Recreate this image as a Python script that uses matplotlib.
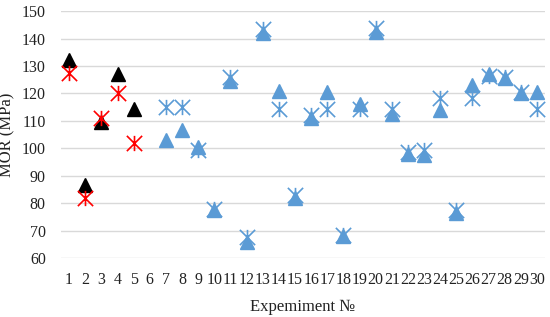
import numpy as np
import matplotlib
matplotlib.use('Agg')
import matplotlib.pyplot as plt
from matplotlib.path import Path

# experiments 1-5 (black triangles / red crosses)
exp_a = [1, 2, 3, 4, 5]
tri_a = [132, 86.5, 109.5, 127, 114.5]
star_a = [127.5, 82, 111, 120, 102]

# experiments 7-30 (blue)
exp_b = list(range(7, 31))
tri_b = [103, 106.5, 100.5, 77.5, 124.5, 66, 142, 121, 82, 111, 120.5, 68,
         116, 142.5, 112.5, 98, 97.5, 114, 76.5, 123, 127, 125.5, 120, 120.5]
star_b = [115, 115, 99.5, 78, 126, 67.5, 143.5, 114.5, 83, 112, 114.5, 68.5,
          114.5, 144, 114.5, 98.5, 99.5, 118.5, 77.5, 118.5, 126.5, 126, 120.5, 114.5]

xticks = [str(i) for i in range(1, 31)]

# excel style star: x with vertical bar
star = Path([(-1, -1), (1, 1), (-1, 1), (1, -1), (0, -1), (0, 1)],
            [Path.MOVETO, Path.LINETO, Path.MOVETO, Path.LINETO, Path.MOVETO, Path.LINETO])

plt.rcParams['font.family'] = 'Liberation Serif'
fig = plt.figure(figsize=(5.5, 3.17), dpi=100)
ax = fig.add_axes([0.111, 0.186, 0.88, 0.779])

blue = '#5B9BD5'
ax.plot(exp_a, tri_a, ls='none', marker='^', ms=10.5, color='black', zorder=3)
ax.plot(exp_a, star_a, ls='none', marker=star, ms=11, mew=1.2, color='red', zorder=4)
ax.plot(exp_b, tri_b, ls='none', marker='^', ms=10.5, color=blue, zorder=3)
ax.plot(exp_b, star_b, ls='none', marker=star, ms=11, mew=1.2, color=blue, zorder=4)

ax.set_xlim(0.5, 30.5)
ax.set_ylim(60, 150)
ax.set_yticks(range(60, 151, 10))
ax.set_xticks(range(1, 31))
ax.set_xticklabels(xticks)
ax.tick_params(length=0, labelsize=11.5, labelcolor='#222222')
ax.tick_params(axis='y', pad=11)
ax.tick_params(axis='x', pad=10)
ax.grid(axis='y', color='#D9D9D9', lw=1)
ax.set_axisbelow(True)
for s in ax.spines.values():
    s.set_visible(False)

ax.set_ylabel('MOR (MPa)', fontsize=12, color='#222222')
ax.yaxis.set_label_coords(-0.095, 0.5)
ax.set_xlabel('Expemiment №', fontsize=12, labelpad=8, color='#222222')

fig.savefig('out.png')
